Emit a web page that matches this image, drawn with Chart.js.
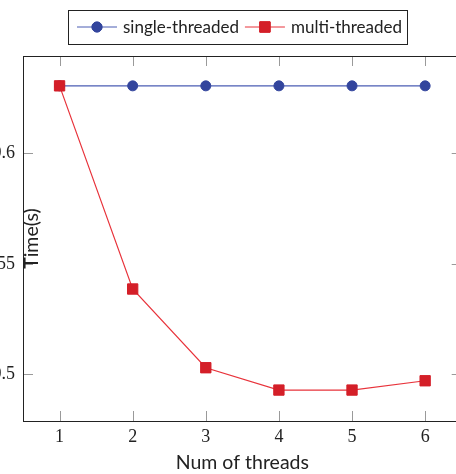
<!DOCTYPE html>
<html>
<head>
<meta charset="utf-8">
<script src="https://cdn.jsdelivr.net/npm/chart.js@4.4.0/dist/chart.umd.min.js"></script>
<style>
    body { margin: 0; background: #fff; }
    #wrap { position: relative; width: 456px; height: 474px; overflow: hidden; }
    #chart { position: absolute; left: -40px; top: 0; }
</style>
</head>
<body>
<div id="wrap">
    <canvas id="chart" width="510" height="474"></canvas>
</div>
<script>
// data
let threads = [1, 2, 3, 4, 5, 6]
let singleThreaded = [0.6305, 0.6305, 0.6305, 0.6305, 0.6305, 0.6305]
let multiThreaded = [0.6305, 0.5386, 0.503, 0.4929, 0.4929, 0.4971]

let xTicks = [1, 2, 3, 4, 5, 6]
let yTicks = [0.5, 0.55, 0.6]
let yTickLabels = ['0.5', '0.55', '0.6']

let seriesNames = ['single-threaded', 'multi-threaded']
let xTitle = 'Num of threads'
let yTitle = 'Time(s)'

const sansFont = 'Lato'
const serifFont = 'Liberation Serif'
const blue = '#33459d'
const red = '#d41f28'

function toPoints(ys) {
    return threads.map((t, i) => ({ x: t, y: ys[i] }))
}

// pgfplots style box with inside ticks on every side
const framePlugin = {
    id: 'frame',
    beforeDatasetsDraw(chart) {
        const ctx = chart.ctx
        const a = chart.chartArea
        const xs = chart.scales.x
        const ys = chart.scales.y
        const len = 10
        ctx.save()
        ctx.strokeStyle = '#9a9a9a'
        ctx.lineWidth = 1
        ctx.beginPath()
        xTicks.forEach(v => {
            let px = Math.round(xs.getPixelForValue(v)) + 0.5
            ctx.moveTo(px, a.bottom); ctx.lineTo(px, a.bottom - len)
            ctx.moveTo(px, a.top); ctx.lineTo(px, a.top + len)
        })
        yTicks.forEach(v => {
            let py = Math.round(ys.getPixelForValue(v)) + 0.5
            ctx.moveTo(a.left, py); ctx.lineTo(a.left + len, py)
            ctx.moveTo(a.right, py); ctx.lineTo(a.right - len, py)
        })
        ctx.stroke()
        ctx.strokeStyle = '#222'
        ctx.strokeRect(Math.round(a.left) + 0.5, Math.round(a.top) + 0.5,
            Math.round(a.right - a.left), Math.round(a.bottom - a.top))
        ctx.restore()
    },
    afterDraw(chart) {
        const ctx = chart.ctx
        const a = chart.chartArea

        // y title sits just inside the plot box
        ctx.save()
        ctx.fillStyle = '#222'
        ctx.font = '19.5px ' + sansFont
        ctx.translate(a.left + 15, (a.top + a.bottom) / 2)
        ctx.rotate(-Math.PI / 2)
        ctx.textAlign = 'center'
        ctx.textBaseline = 'alphabetic'
        ctx.fillText(yTitle, 0, 0)
        ctx.restore()

        // legend: line + marker + label, boxed
        ctx.save()
        ctx.font = '17px ' + sansFont
        ctx.textBaseline = 'middle'
        const lineLen = 40
        const gap = 6
        const pad = 9
        let widths = chart.data.datasets.map(d => ctx.measureText(d.label).width)
        let total = pad * 2
        widths.forEach((w, i) => { total += lineLen + gap + w + (i < widths.length - 1 ? gap : 0) })
        let boxLeft = 108
        let boxTop = 10
        let boxH = 34
        let cy = boxTop + boxH / 2
        ctx.strokeStyle = '#222'
        ctx.lineWidth = 1
        ctx.strokeRect(Math.round(boxLeft) + 0.5, boxTop + 0.5, Math.round(total) - 4, boxH)
        let x = boxLeft + pad
        chart.data.datasets.forEach((d, i) => {
            ctx.strokeStyle = d.borderColor
            ctx.lineWidth = 1
            ctx.beginPath()
            ctx.moveTo(x, cy); ctx.lineTo(x + lineLen, cy)
            ctx.stroke()
            Chart.helpers.drawPoint(ctx, {
                pointStyle: d.pointStyle,
                radius: d.pointRadius,
                borderWidth: 1
            }, x + lineLen / 2, cy)
            ctx.fillStyle = d.pointBackgroundColor
            ctx.strokeStyle = d.pointBorderColor
            ctx.fill()
            ctx.stroke()
            ctx.fillStyle = '#222'
            ctx.textAlign = 'left'
            ctx.fillText(d.label, x + lineLen + gap, cy + 1)
            x += lineLen + gap + widths[i] + gap
        })
        ctx.restore()
    }
}

const ctx = document.getElementById('chart').getContext('2d')
const chart = new Chart(ctx, {
    type: 'line',
    data: {
        datasets: [{
            label: seriesNames[0],
            data: toPoints(singleThreaded),
            borderColor: '#4a5db3',
            borderWidth: 1.2,
            pointStyle: 'circle',
            pointRadius: 5,
            pointBackgroundColor: blue,
            pointBorderColor: blue,
            pointBorderWidth: 1,
            order: 1
        }, {
            label: seriesNames[1],
            data: toPoints(multiThreaded),
            borderColor: '#e8333b',
            borderWidth: 1.2,
            pointStyle: 'rect',
            pointRadius: 7.3,
            pointBackgroundColor: red,
            pointBorderColor: red,
            pointBorderWidth: 1,
            order: 0
        }]
    },
    options: {
        responsive: false,
        devicePixelRatio: 1,
        animation: false,
        layout: { padding: { top: 56, right: 3, left: 0, bottom: 0 } },
        plugins: {
            legend: { display: false },
            tooltip: { enabled: false }
        },
        scales: {
            x: {
                type: 'linear',
                min: 0.5,
                max: 6.5,
                afterBuildTicks: (s) => { s.ticks = xTicks.map(v => ({ value: v })) },
                afterFit: (s) => { s.height = 53 },
                grid: { display: false, drawTicks: false },
                border: { display: false },
                ticks: {
                    padding: 5,
                    color: '#222',
                    font: { family: serifFont, size: 18 },
                    callback: (v) => String(v)
                },
                title: {
                    display: true,
                    text: xTitle,
                    color: '#222',
                    font: { family: sansFont, size: 19.5 },
                    padding: { top: 0, bottom: 0 }
                }
            },
            y: {
                type: 'linear',
                min: 0.4789,
                max: 0.644,
                afterBuildTicks: (s) => { s.ticks = yTicks.map(v => ({ value: v })) },
                afterFit: (s) => { s.width = 63 },
                grid: { display: false, drawTicks: false },
                border: { display: false },
                ticks: {
                    padding: 8,
                    color: '#222',
                    font: { family: serifFont, size: 18 },
                    callback: (v) => yTickLabels[yTicks.indexOf(v)]
                }
            }
        }
    },
    plugins: [framePlugin]
})
</script>
</body>
</html>
